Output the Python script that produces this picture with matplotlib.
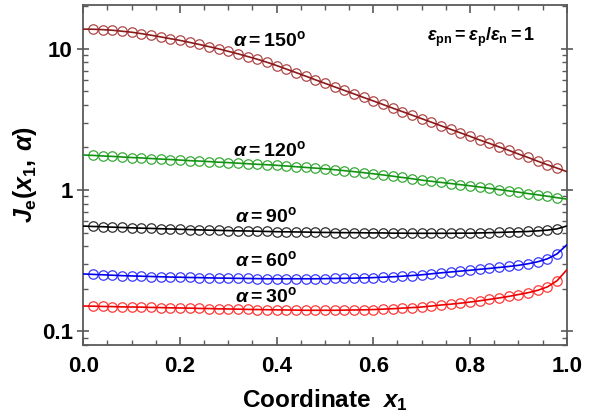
import matplotlib
matplotlib.use("Agg")
import matplotlib.pyplot as plt
from matplotlib.ticker import FixedLocator, LogLocator, NullFormatter, FuncFormatter, MultipleLocator
import numpy as np

plt.rcParams['font.family'] = ['Liberation Sans', 'DejaVu Sans']
plt.rcParams['mathtext.fontset'] = 'custom'
plt.rcParams['mathtext.rm'] = 'Liberation Sans:bold'
plt.rcParams['mathtext.it'] = 'Liberation Sans:italic:bold'
plt.rcParams['mathtext.bf'] = 'Liberation Sans:bold'

# ---- data ----
x1 = [round(0.02 * i, 2) for i in range(51)]

j150 = [13.77, 13.74, 13.65, 13.52, 13.30, 13.09, 12.79, 12.47, 12.13, 11.78,
        11.46, 11.09, 10.72, 10.35, 9.98, 9.59, 9.20, 8.81, 8.43, 8.02,
        7.60, 7.18, 6.78, 6.40, 6.03, 5.69, 5.37, 5.07, 4.79, 4.52,
        4.27, 4.03, 3.80, 3.59, 3.39, 3.20, 3.02, 2.85, 2.69, 2.54,
        2.40, 2.26, 2.14, 2.02, 1.91, 1.80, 1.70, 1.60, 1.51, 1.43, 1.35]

j120 = [1.770, 1.758, 1.742, 1.730, 1.714, 1.698, 1.687, 1.671, 1.656, 1.644,
        1.629, 1.614, 1.603, 1.589, 1.574, 1.563, 1.549, 1.535, 1.521, 1.510,
        1.496, 1.479, 1.462, 1.445, 1.429, 1.413, 1.393, 1.371, 1.349, 1.327,
        1.303, 1.279, 1.253, 1.227, 1.202, 1.175, 1.153, 1.132, 1.112, 1.091,
        1.072, 1.050, 1.028, 1.007, 0.986, 0.966, 0.944, 0.925, 0.904, 0.883, 0.863]

j90 = [0.556, 0.552, 0.550, 0.546, 0.543, 0.540, 0.537, 0.535, 0.532, 0.530,
       0.527, 0.525, 0.522, 0.520, 0.518, 0.516, 0.514, 0.513, 0.511, 0.509,
       0.507, 0.506, 0.505, 0.504, 0.502, 0.501, 0.500, 0.499, 0.499, 0.498,
       0.497, 0.497, 0.495, 0.495, 0.494, 0.494, 0.494, 0.494, 0.494, 0.495,
       0.495, 0.497, 0.499, 0.501, 0.504, 0.506, 0.509, 0.514, 0.520, 0.531, 0.556]

j60 = [0.2547, 0.2529, 0.2512, 0.2495, 0.2477, 0.2466, 0.2455, 0.2443, 0.2432, 0.2421,
       0.2415, 0.2404, 0.2399, 0.2388, 0.2382, 0.2377, 0.2371, 0.2366, 0.2360, 0.2355,
       0.2355, 0.2355, 0.2355, 0.2355, 0.2355, 0.2360, 0.2366, 0.2371, 0.2377, 0.2388,
       0.2399, 0.2415, 0.2432, 0.2455, 0.2483, 0.2512, 0.2553, 0.2594, 0.2630, 0.2667,
       0.2704, 0.2748, 0.2786, 0.2831, 0.2877, 0.2931, 0.3006, 0.3105, 0.3258, 0.3532, 0.4083]

j30 = [0.1510, 0.1507, 0.1500, 0.1496, 0.1489, 0.1486, 0.1483, 0.1476, 0.1472, 0.1466,
       0.1462, 0.1459, 0.1452, 0.1449, 0.1442, 0.1439, 0.1435, 0.1429, 0.1426, 0.1422,
       0.1419, 0.1416, 0.1413, 0.1409, 0.1409, 0.1409, 0.1409, 0.1413, 0.1416, 0.1419,
       0.1426, 0.1435, 0.1445, 0.1459, 0.1472, 0.1486, 0.1510, 0.1535, 0.1556, 0.1581,
       0.1611, 0.1644, 0.1683, 0.1722, 0.1766, 0.1820, 0.1875, 0.1950, 0.2061, 0.2280, 0.2716]

series = [
    (j150, '#8c1a1a', '#b04848', r'$\alpha = 150^{\mathrm{o}}$', 0.310, 11.5),
    (j120, '#129412', '#3aaa3a', r'$\alpha = 120^{\mathrm{o}}$', 0.310, 1.92),
    (j90,  '#000000', '#303030', r'$\alpha = 90^{\mathrm{o}}$',  0.314, 0.655),
    (j60,  '#0000ee', '#3a3aff', r'$\alpha = 60^{\mathrm{o}}$',  0.314, 0.32),
    (j30,  '#ee0000', '#ff3a3a', r'$\alpha = 30^{\mathrm{o}}$',  0.314, 0.178),
]

fig = plt.figure(figsize=(5.97, 4.19), dpi=100)
ax = fig.add_axes([0.1395, 0.1766, 0.8097, 0.8115])

for ys, lc, mc, lab, tx, ty in series:
    ax.plot(x1, ys, '-', color=lc, lw=1.2, zorder=3)
    ax.plot(x1, ys, 'o', markevery=slice(1, 50), mfc='none', mec=mc,
            ms=6.8, mew=0.9, zorder=2)
    ax.text(tx, ty, lab, fontsize=14, ha='left', va='center')

ax.text(0.712, 12.1, r'$\varepsilon_{\mathrm{pn}} = \varepsilon_{\mathrm{p}}/\varepsilon_{\mathrm{n}} = 1$',
        fontsize=13, ha='left', va='center')

ax.set_yscale('log')
ax.set_xlim(0.0, 1.0)
ax.set_ylim(0.08, 20.4)

ax.xaxis.set_major_locator(MultipleLocator(0.2))
ax.xaxis.set_minor_locator(MultipleLocator(0.05))
ax.xaxis.set_major_formatter(FuncFormatter(lambda v, p: f'{v:.1f}'))
ax.yaxis.set_major_locator(FixedLocator([0.1, 1, 10]))
ax.yaxis.set_minor_locator(LogLocator(base=10, subs=np.arange(2, 10)))
ax.yaxis.set_minor_formatter(NullFormatter())
ax.yaxis.set_major_formatter(FuncFormatter(lambda v, p: {0.1: '0.1', 1: '1', 10: '10'}.get(round(v, 3), '')))

spine_c = '#5a5a5a'
for s in ax.spines.values():
    s.set_color(spine_c)
    s.set_linewidth(1.3)

ax.tick_params(axis='x', which='major', direction='in', length=6, width=1.2, color=spine_c,
               top=True, bottom=True, labelsize=16, pad=8)
ax.tick_params(axis='x', which='minor', direction='in', length=3.5, width=1.0, color=spine_c,
               top=True, bottom=True)
ax.tick_params(axis='y', which='major', direction='inout', length=9, width=1.2, color=spine_c,
               left=True, right=True, labelsize=16, pad=3)
ax.tick_params(axis='y', which='minor', direction='in', length=3.5, width=1.0, color=spine_c,
               left=True, right=True)
for lbl in ax.get_xticklabels() + ax.get_yticklabels():
    lbl.set_fontweight('bold')

ax.set_xlabel(r'Coordinate  $x_{\mathrm{1}}$', fontsize=17.5, fontweight='bold', labelpad=7)
ax.set_ylabel(r'$J_{\mathrm{e}}(x_{\mathrm{1}},\, \alpha)$', fontsize=18, labelpad=2)

fig.savefig('out.png', dpi=100)
